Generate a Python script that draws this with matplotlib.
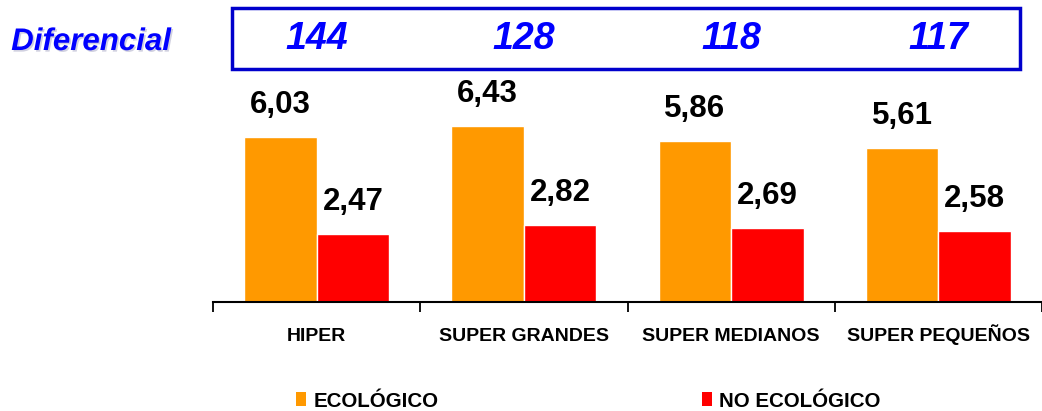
import numpy as np
import matplotlib.pyplot as plt
from matplotlib.patches import Rectangle, Patch
import matplotlib.patheffects as pe
import matplotlib.transforms as mtransforms

# --- data ---
categories = ["HIPER", "SUPER GRANDES", "SUPER MEDIANOS", "SUPER PEQUEÑOS"]
ecologico = [6.03, 6.43, 5.86, 5.61]
no_ecologico = [2.47, 2.82, 2.69, 2.58]
diferencial = [144, 128, 118, 117]

COL_ECO = "#FF9900"
COL_NO = "#FF0000"
COL_BLUE = "#0000FF"
COL_BOX = "#0000CC"

W, H = 1042, 411
fig = plt.figure(figsize=(W / 100, H / 100), dpi=100)
plt.rcParams['font.family'] = ['Liberation Sans', 'DejaVu Sans']

# axes: left boundary at x=213px, baseline at y=302px, extends to the right edge
left_px, base_px = 213, 302
ax = fig.add_axes([left_px / W, 1 - base_px / H, 1 - left_px / W, base_px / H])
unit_px = 209
ax.set_xlim(-0.5, -0.5 + (W - left_px) / unit_px)
ax.set_ylim(0, base_px / 27.4)

x = np.arange(len(categories))
bw = 0.35
b1 = ax.bar(x - bw / 2, ecologico, bw, color=COL_ECO, edgecolor="white", linewidth=1)
b2 = ax.bar(x + bw / 2, no_ecologico, bw, color=COL_NO, edgecolor="white", linewidth=1)

for bars, vals in ((b1, ecologico), (b2, no_ecologico)):
    for r, v in zip(bars, vals):
        ax.annotate(f"{v:.2f}".replace(".", ","),
                    (r.get_x() + r.get_width() / 2, r.get_height()),
                    xytext=(0, 23), textcoords="offset points",
                    ha="center", va="center", fontsize=22.5, fontweight="bold",
                    color="black")

for s in ("top", "right", "left"):
    ax.spines[s].set_visible(False)
ax.spines["bottom"].set_linewidth(1.5)
ax.set_yticks([])
ax.set_xticks(x)
ax.set_xticklabels(categories, fontsize=14, fontweight="bold")
for lbl in ax.get_xticklabels():
    lbl.set_verticalalignment("baseline")
ax.tick_params(axis="x", which="major", length=0, pad=28)
ax.set_xticks(np.arange(-0.5, len(categories), 1.0), minor=True)
ax.tick_params(axis="x", which="minor", length=7, width=1.3, direction="out")

# --- Diferencial box ---
box = Rectangle((232 / W, 1 - 69 / H), (1020 - 232) / W, 61 / H,
                transform=fig.transFigure, fill=False, edgecolor=COL_BOX,
                linewidth=2.5)
fig.patches.append(box)
trans = mtransforms.blended_transform_factory(ax.transData, fig.transFigure)
for xi, d in zip(x, diferencial):
    ax.text(xi, 1 - 39 / H, str(d), transform=trans, ha="center", va="center",
            fontsize=27, fontweight="bold", fontstyle="italic", color=COL_BLUE,
            clip_on=False)

fig.text(91 / W, 1 - 42 / H, "Diferencial", ha="center", va="center",
         fontsize=22.5, fontweight="bold", fontstyle="italic", color=COL_BLUE,
         path_effects=[pe.SimplePatchShadow(offset=(1.2, -1.2),
                                            shadow_rgbFace="#9999BB", alpha=0.45),
                       pe.Normal()])

# --- legend ---
handles = [Patch(facecolor=COL_ECO), Patch(facecolor=COL_NO)]
fig.legend(handles, ["ECOLÓGICO", "NO ECOLÓGICO"], loc="center left",
           bbox_to_anchor=(296 / W, 1 - 401 / H), ncol=2, frameon=False,
           borderpad=0, borderaxespad=0,
           handlelength=0.5, handleheight=0.65, handletextpad=0.35,
           columnspacing=12.8,
           prop={"size": 14.8, "weight": "bold"})

fig.savefig("out.png", dpi=100)
